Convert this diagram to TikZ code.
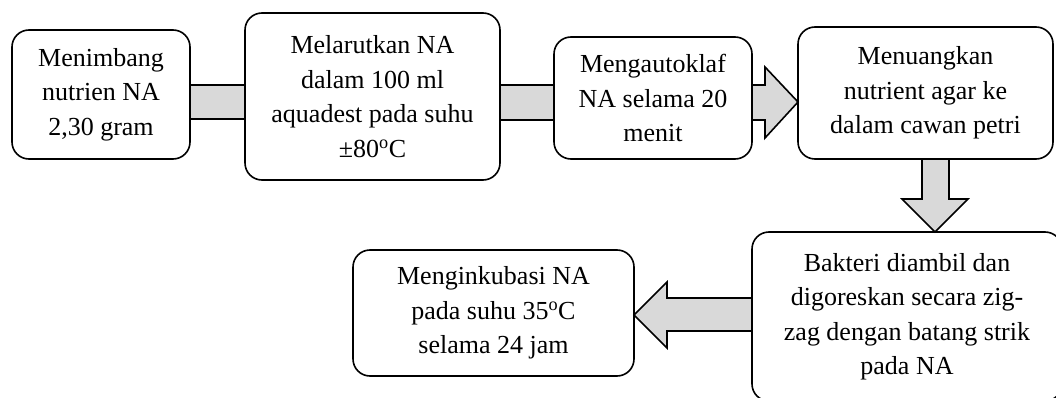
\documentclass[tikz,border=0pt]{standalone}
\usepackage{fontspec}
\setmainfont{Liberation Serif}
\definecolor{arrgray}{HTML}{D9D9D9}
\begin{document}
\begin{tikzpicture}[x=1pt,y=-1pt,
  box/.style={draw, line width=1.6pt, rounded corners=17pt, fill=white, align=center,
    inner sep=0pt, outer sep=0pt, font=\fontsize{26}{34.5}\selectfont},
  arr/.style={draw, line width=1.6pt, fill=arrgray, line join=miter}]
\clip (0,0) rectangle (1056,398);
\fill[white] (0,0) rectangle (1056,398);
\node[box, minimum width=178pt, minimum height=129pt] (b1) at (101,94.5) {Menimbang\\nutrien NA\\2,30 gram};
\node[box, minimum width=255pt, minimum height=167pt] (b2) at (372.5,96.5) {Melarutkan NA\\dalam 100 ml\\aquadest pada suhu\\±80\textsuperscript{o}C};
\node[box, minimum width=198pt, minimum height=122pt] (b3) at (653,98) {Mengautoklaf\\NA selama 20\\menit};
\node[box, minimum width=255pt, minimum height=132pt] (b4) at (925.5,93) {Menuangkan\\nutrient agar ke\\dalam cawan petri};
\node[box, minimum width=310pt, minimum height=169pt] (b5) at (907,316.5) {Bakteri diambil dan\\digoreskan secara zig-\\zag dengan batang strik\\pada NA};
\node[box, minimum width=281pt, minimum height=126pt] (b6) at (493.5,313) {Menginkubasi NA\\pada suhu 35\textsuperscript{o}C\\selama 24 jam};
\draw[arr] (b1.east |- 0,85) rectangle (b2.west |- 0,119);
\draw[arr] (b2.east |- 0,85) rectangle (b3.west |- 0,120);
\draw[arr] (b3.east |- 0,85) -- (765,85) -- (765,67) -- (b4.west |- 0,102) -- (765,138) -- (765,120) -- (b3.east |- 0,120) -- cycle;
\draw[arr] (b4.south -| 922,0) -- (922,199) -- (902,199) -- (b5.north -| 935,0) -- (968,199) -- (949,199) -- (b4.south -| 949,0) -- cycle;
\draw[arr] (b5.west |- 0,298) -- (667,298) -- (667,282) -- (b6.east |- 0,315) -- (667,348) -- (667,331) -- (b5.west |- 0,331) -- cycle;
\end{tikzpicture}
\end{document}
